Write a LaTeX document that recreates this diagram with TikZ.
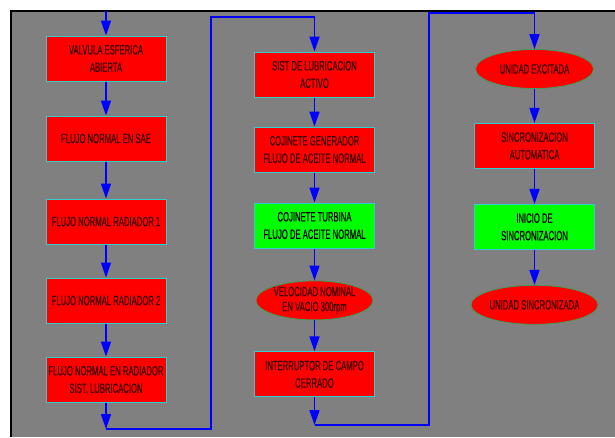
\documentclass[tikz,border=0pt]{standalone}
\usepackage{fontspec}
\newfontfamily\narrowfont[FakeStretch=0.57,FakeBold=0.4]{Liberation Sans}
\usetikzlibrary{positioning,shapes.geometric,arrows.meta}
\definecolor{panel}{RGB}{128,128,128}
\definecolor{rim}{RGB}{51,204,204}
\definecolor{ovalrim}{RGB}{60,160,90}
\definecolor{flow}{RGB}{0,0,255}
\definecolor{ink}{RGB}{60,0,0}
\tikzset{
	box/.style={draw=rim, line width=1pt, fill=red, minimum width=120pt, minimum height=45pt, text=ink,
		inner sep=0pt, align=center, font=\narrowfont\fontsize{13.5}{17.5}\selectfont},
	okbox/.style={box, fill=green, text=black},
	oval/.style={ellipse, draw=ovalrim, line width=0.8pt, fill=red, minimum width=117pt, minimum height=39pt, text=ink,
		inner sep=0pt, align=center, font=\narrowfont\fontsize{13.5}{15}\selectfont},
	arr/.style={draw=flow, line width=1.6pt, -{Triangle[length=15pt,width=10pt]}}
}
\begin{document}
\begin{tikzpicture}[x=1pt,y=-1pt]
			\useasboundingbox (0,0) rectangle (615,437);
			\fill[white] (0,0) rectangle (615,437);
			\fill[panel] (11,11) rectangle (615,437);
			\draw[line width=2pt] (11,437) -- (11,11) -- (615,11);
			% first column
			\node (v1) [box] at (106,58.5) {VALVULA ESFERICA\\ABIERTA};
			\node (v2) [box, below=34pt of v1] {FLUJO NORMAL EN SAE};
			\node (v3) [box, below=37pt of v2] {FLUJO NORMAL RADIADOR 1};
			\node (v4) [box, below=33pt of v3] {FLUJO NORMAL RADIADOR 2};
			\node (v5) [box, below=33pt of v4] {FLUJO NORMAL EN RADIADOR\\SIST. LUBRICACION};
			% second column
			\node (l1) [box] at (314.5,74.5) {SIST DE LUBRICACION\\ACTIVO};
			\node (l2) [box, below=29pt of l1] {COJINETE GENERADOR\\FLUJO DE ACEITE NORMAL};
			\node (l3) [okbox, below=30pt of l2] {COJINETE TURBINA\\FLUJO DE ACEITE NORMAL};
			\node (l4) [oval, below=32pt of l3] {VELOCIDAD NOMINAL\\EN VACIO 300rpm};
			\node (l5) [box, below=31pt of l4] {INTERRUPTOR DE CAMPO\\CERRADO};
			% third column
			\node (s1) [oval, minimum width=118pt] at (534.5,69) {UNIDAD EXCITADA};
			\node (s2) [box, below=34pt of s1] {SINCRONIZACION\\AUTOMATICA};
			\node (s3) [okbox, below=35pt of s2] {INICIO DE\\SINCRONIZACION};
			\node (s4) [oval, minimum width=119pt, below=35pt of s3] {UNIDAD SINCRONIZADA};
			\coordinate (in) at (106,11);
			\coordinate (c1) at (106,429);
			\coordinate (c2) at (211,17);
			\coordinate (c3) at (314.5,425);
			\coordinate (c4) at (429,13);
			\draw[arr] (in) -- (v1);
			\draw[arr] (v1) -- (v2);
			\draw[arr] (v2) -- (v3);
			\draw[arr] (v3) -- (v4);
			\draw[arr] (v4) -- (v5);
			\draw[arr] (v5) -- (c1);
			\draw[arr] (c1) -| (c2) -| (l1);
			\draw[arr] (l1) -- (l2);
			\draw[arr] (l2) -- (l3);
			\draw[arr] (l3) -- (l4);
			\draw[arr] (l4) -- (l5);
			\draw[arr] (l5) -- (c3);
			\draw[arr] (c3) -| (c4) -| (s1);
			\draw[arr] (s1) -- (s2);
			\draw[arr] (s2) -- (s3);
			\draw[arr] (s3) -- (s4);
		\end{tikzpicture}
\end{document}
